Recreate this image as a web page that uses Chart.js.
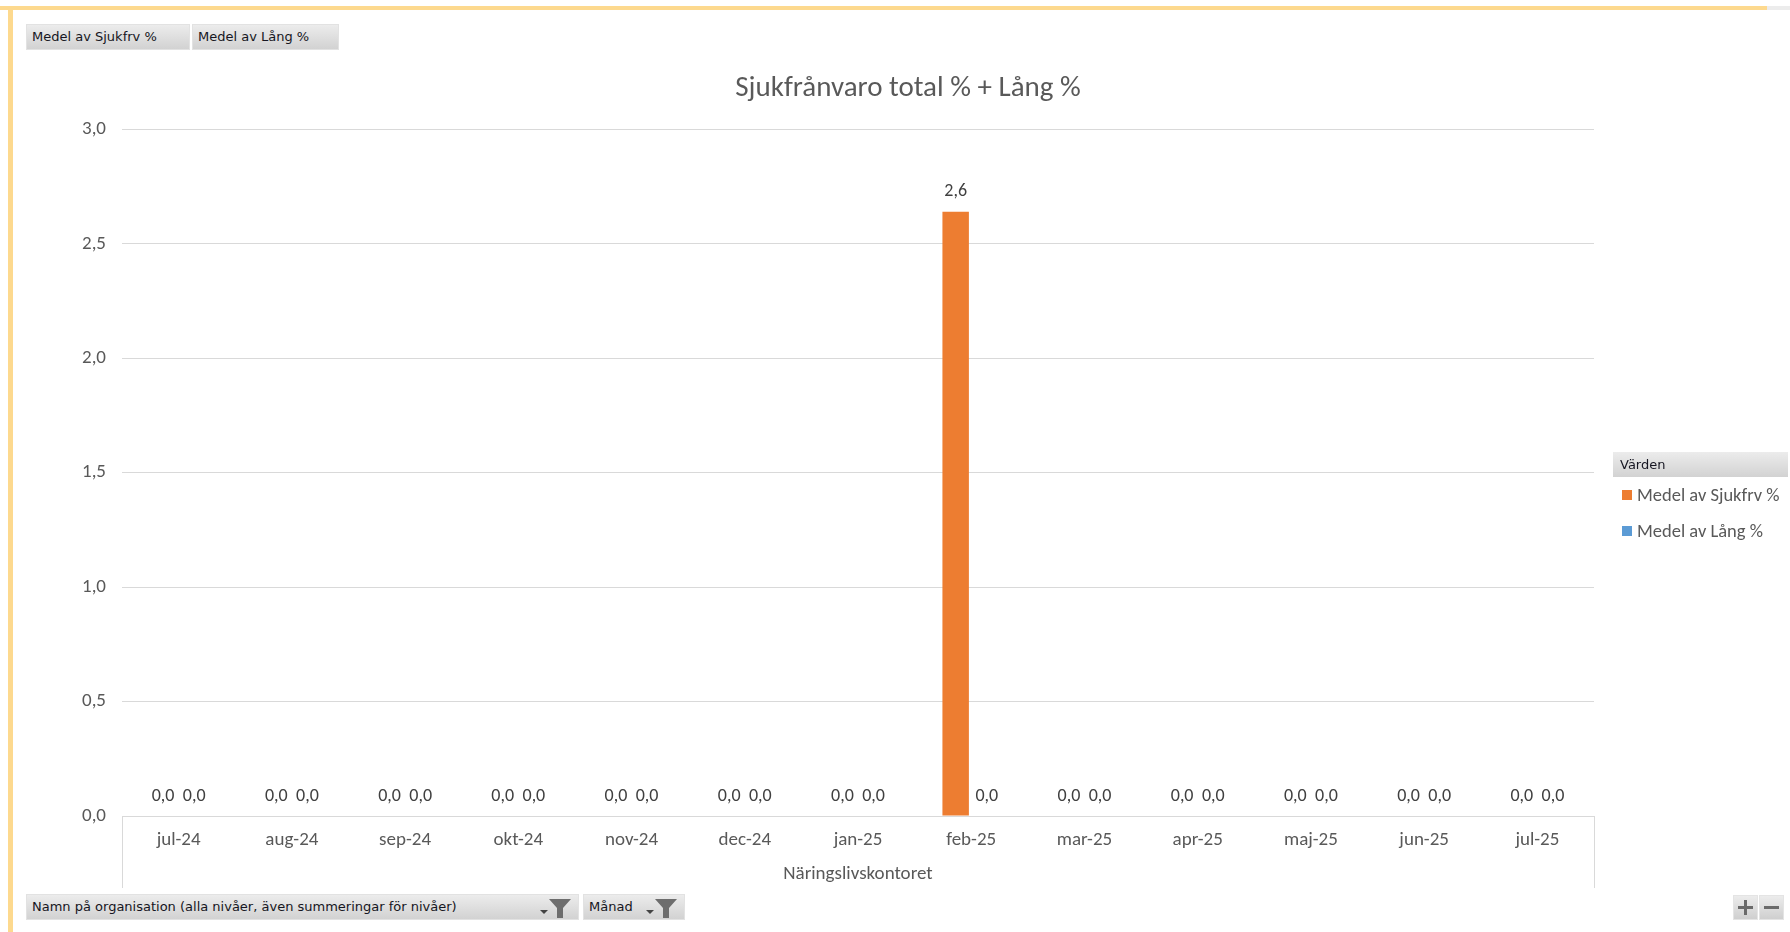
<!DOCTYPE html>
<html>
<head>
<meta charset="utf-8">
<script src="https://cdn.jsdelivr.net/npm/chart.js@4.4.1/dist/chart.umd.min.js"></script>
<style>
  html, body { margin: 0; padding: 0; background: #fff; }
  body { width: 1790px; height: 932px; position: relative; overflow: hidden; }
  #frameTop { position: absolute; left: 0; top: 6px; width: 1767px; height: 4px; background: #fdd98e; }
  #frameTopEnd { position: absolute; left: 1767px; top: 6px; width: 23px; height: 4px; background: #ececec; }
  #frameLeft { position: absolute; left: 8px; top: 6px; width: 5px; height: 926px; background: #fdd98e; }
  #chart { position: absolute; left: 0; top: 0; }
  .btn {
    position: absolute; box-sizing: border-box; height: 26px;
    background: linear-gradient(#ececec, #d2d2d2); border: 1px solid #e2e2e2;
    font: 13px "DejaVu Sans", sans-serif; color: #161622; line-height: 24px;
    padding-left: 5px; white-space: nowrap; letter-spacing: 0px;
  }
  .btn svg { position: absolute; right: 4px; top: 1px; }
  #legend { position: absolute; left: 1613px; top: 452px; width: 175px; }
  #legend .head { height: 25px; box-sizing: border-box; background: linear-gradient(#ececec, #d2d2d2);
    font: 13px "DejaVu Sans", sans-serif; color: #161622; line-height: 25px; padding-left: 7px; }
  #legend .item { font: 18.5px Carlito, Lato, sans-serif; color: #595959; height: 36px; line-height: 36px;
    padding-left: 9px; white-space: nowrap; }
  #legend .sw { display: inline-block; width: 10px; height: 10px; margin-right: 5px; vertical-align: 1px; }
  .pm { position: absolute; top: 895px; width: 25px; height: 25px; box-sizing: border-box;
    background: linear-gradient(#ececec, #cfcfcf); border: 1px solid #e4e4e4; }
</style>
</head>
<body>
<div id="frameTop"></div><div id="frameTopEnd"></div><div id="frameLeft"></div>
<canvas id="chart" width="1790" height="932"></canvas>

<div class="btn" style="left:26px;top:24px;width:164px;">Medel av Sjukfrv %</div>
<div class="btn" style="left:192px;top:24px;width:147px;">Medel av Lång %</div>

<div id="legend"></div>

<div class="btn" style="left:26px;top:894px;width:553px;">Namn på organisation (alla nivåer, även summeringar för nivåer)
  <svg width="36" height="24" viewBox="0 0 36 24"><path d="M2 14 L10 14 L6 18 Z" fill="#444"/><path d="M11 3 L33 3 L25 12 L25 22 L19 22 L19 12 Z" fill="#6d6d6d"/></svg>
</div>
<div class="btn" style="left:583px;top:894px;width:102px;">Månad
  <svg width="36" height="24" viewBox="0 0 36 24"><path d="M2 14 L10 14 L6 18 Z" fill="#444"/><path d="M11 3 L33 3 L25 12 L25 22 L19 22 L19 12 Z" fill="#6d6d6d"/></svg>
</div>

<div class="pm" style="left:1733px;"><svg width="23" height="23"><path d="M4 11.5 H19 M11.5 4 V19" stroke="#6a6a6a" stroke-width="3"/></svg></div>
<div class="pm" style="left:1759px;"><svg width="23" height="23"><path d="M4 11.5 H19" stroke="#6a6a6a" stroke-width="3"/></svg></div>

<script>
const months = ["jul-24", "aug-24", "sep-24", "okt-24", "nov-24", "dec-24", "jan-25",
  "feb-25", "mar-25", "apr-25", "maj-25", "jun-25", "jul-25"];
const sjukfrv = [0, 0, 0, 0, 0, 0, 0, 2.64, 0, 0, 0, 0, 0];
const lang = [0, 0, 0, 0, 0, 0, 0, 0, 0, 0, 0, 0, 0];
const seriesNames = ["Medel av Sjukfrv %", "Medel av Lång %"];
const seriesColors = ["#ED7D31", "#5B9BD5"];
const yTicks = [0, 0.5, 1, 1.5, 2, 2.5, 3];

const FONT = "Carlito, Lato, sans-serif";
const fmt = (v) => v.toFixed(1).replace(".", ",");

// value labels above each bar, Excel style
const barLabels = {
  id: "barLabels",
  afterDatasetsDraw(chart) {
    const ctx = chart.ctx;
    ctx.save();
    ctx.font = "18px " + FONT;
    ctx.fillStyle = "#404040";
    ctx.textAlign = "center";
    ctx.textBaseline = "middle";
    chart.data.datasets.forEach((ds, i) => {
      chart.getDatasetMeta(i).data.forEach((bar, j) => {
        ctx.fillText(fmt(ds.data[j]), bar.x, bar.y - 20);
      });
    });
    ctx.restore();
  },
};

// outer category frame lines below the axis
const categoryFrame = {
  id: "categoryFrame",
  afterDraw(chart) {
    const { ctx, chartArea } = chart;
    ctx.save();
    ctx.strokeStyle = "#d9d9d9";
    ctx.lineWidth = 1;
    ctx.beginPath();
    [chartArea.left, chartArea.right].forEach((x) => {
      ctx.moveTo(Math.round(x) + 0.5, chartArea.bottom);
      ctx.lineTo(Math.round(x) + 0.5, chartArea.bottom + 72);
    });
    ctx.stroke();
    ctx.restore();
  },
};

new Chart(document.getElementById("chart"), {
  type: "bar",
  data: {
    labels: months,
    datasets: [
      { label: seriesNames[0], data: sjukfrv, backgroundColor: seriesColors[0] },
      { label: seriesNames[1], data: lang, backgroundColor: seriesColors[1] },
    ],
  },
  options: {
    responsive: false,
    animation: false,
    devicePixelRatio: 1,
    categoryPercentage: 0.55,
    barPercentage: 0.85,
    layout: { padding: { left: 26, right: 0, top: 0, bottom: 0 } },
    plugins: {
      legend: { display: false },
      tooltip: { enabled: false },
      title: {
        display: true,
        text: "Sjukfrånvaro total % + Lång %",
        color: "#595959",
        font: { family: FONT, size: 29, weight: "normal" },
        padding: { top: 71, bottom: 23.5 },
      },
    },
    scales: {
      x: {
        grid: { display: true, drawOnChartArea: false, drawTicks: false },
        border: { display: true, color: "#d9d9d9" },
        ticks: { color: "#595959", font: { family: FONT, size: 19 }, padding: 12.6, maxRotation: 0 },
        title: {
          display: true,
          text: "Näringslivskontoret",
          color: "#595959",
          font: { family: FONT, size: 19 },
          padding: { top: 4, bottom: 46 },
        },
        afterFit: (s) => { s.height = 116; },
      },
      y: {
        min: 0,
        max: 3,
        afterBuildTicks: (s) => { s.ticks = yTicks.map((v) => ({ value: v })); },
        grid: { color: "#d9d9d9", drawTicks: false },
        border: { display: false },
        ticks: { color: "#595959", font: { family: FONT, size: 19 }, padding: 16, callback: (v) => fmt(v) },
        afterFit: (s) => { s.width = 96; },
      },
      // empty box on the right that keeps room for the legend panel
      legendSpace: {
        axis: "y",
        position: "right",
        grid: { display: false },
        border: { display: false },
        ticks: { display: false },
        afterFit: (s) => { s.width = 196; },
      },
    },
  },
  plugins: [barLabels, categoryFrame],
});

const legend = document.getElementById("legend");
legend.innerHTML = '<div class="head">Värden</div>' + seriesNames.map((n, i) =>
  '<div class="item"><span class="sw" style="background:' + seriesColors[i] + '"></span>' + n + '</div>').join("");
</script>
</body>
</html>
